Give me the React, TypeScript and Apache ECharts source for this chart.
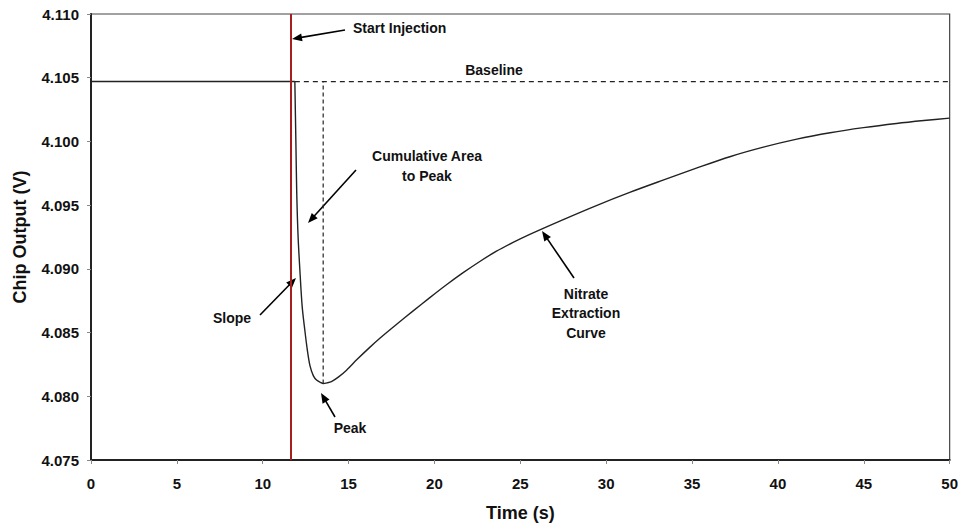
import React, { useEffect, useRef } from "react";
import * as echarts from "echarts";

// Chip output trace after injection (time in s, output in V)
const curveTime = [
  11.87, 11.93, 11.98, 12.06, 12.18, 12.3, 12.45, 12.6, 12.75, 12.95, 13.15,
  13.35, 13.52, 13.75, 14.0, 14.4, 14.88, 15.5, 16.2, 16.82, 17.8, 18.76, 19.73,
  20.7, 21.67, 22.64, 23.61, 24.58, 25.55, 27.5, 29.43, 31.37, 33.31, 35.25,
  37.2, 39.15, 41.1, 43.04, 44.98, 46.9, 48.5, 50,
];
const curveVolts = [
  4.1047, 4.1, 4.096, 4.0925, 4.0895, 4.087, 4.0852, 4.0836, 4.0824, 4.0816,
  4.08125, 4.0811, 4.081, 4.08105, 4.08115, 4.0815, 4.08205, 4.0829, 4.0838,
  4.08455, 4.08565, 4.0867, 4.08774, 4.08875, 4.0897, 4.09058, 4.09139,
  4.09208, 4.09271, 4.09387, 4.09497, 4.096, 4.09696, 4.0979, 4.0988, 4.09955,
  4.10018, 4.10068, 4.10108, 4.10141, 4.10164, 4.10183,
];

// Pre-injection trace, flat at the baseline
const preTime = [0, 11.87];
const preVolts = [4.1047, 4.1047];

const baselineVolts = 4.1047;
const injectionTime = 11.64;
const dropStartTime = 11.87;
const peakTime = 13.52;
const peakVolts = 4.081;

const xTicks = { min: 0, max: 50, interval: 5 };
const yTicks = { min: 4.075, max: 4.11, interval: 0.005 };

const FONT = '"Liberation Sans", Arial, sans-serif';

function arrow(x1: number, y1: number, x2: number, y2: number) {
  const dx = x2 - x1;
  const dy = y2 - y1;
  const len = Math.sqrt(dx * dx + dy * dy);
  const ux = dx / len;
  const uy = dy / len;
  const headLen = 10;
  const headW = 4;
  const bx = x2 - ux * headLen;
  const by = y2 - uy * headLen;
  return {
    type: "group",
    silent: true,
    children: [
      {
        type: "line",
        shape: { x1, y1, x2: bx + ux * 2, y2: by + uy * 2 },
        style: { stroke: "#000", lineWidth: 1.6 },
      },
      {
        type: "polygon",
        shape: {
          points: [
            [x2, y2],
            [bx - uy * headW, by + ux * headW],
            [bx + uy * headW, by - ux * headW],
          ],
        },
        style: { fill: "#000" },
      },
    ],
  };
}

function label(text: string, x: number, y: number, align = "center") {
  return {
    type: "text",
    x,
    y,
    silent: true,
    style: {
      text,
      fill: "#111",
      font: `bold 14px ${FONT}`,
      align,
      verticalAlign: "middle",
      lineHeight: 19.5,
    },
  };
}

export default function App() {
  const ref = useRef<HTMLDivElement>(null);

  useEffect(() => {
    if (!ref.current) return;
    const chart = echarts.init(ref.current, undefined, { renderer: "svg" });
    const curve = curveTime.map((t, i) => [t, curveVolts[i]]);
    const pre = preTime.map((t, i) => [t, preVolts[i]]);

    chart.setOption({
      animation: false,
      backgroundColor: "#fff",
      grid: {
        left: 91,
        right: 11,
        top: 14,
        bottom: 63,
        show: true,
        borderColor: "#444",
        borderWidth: 1.2,
      },
      xAxis: {
        type: "value",
        min: xTicks.min,
        max: xTicks.max,
        interval: xTicks.interval,
        name: "Time (s)",
        nameLocation: "middle",
        nameGap: 44,
        nameTextStyle: { fontFamily: FONT, fontWeight: "bold", fontSize: 18, color: "#111" },
        axisLine: { lineStyle: { color: "#222", width: 2 } },
        axisTick: { show: true, length: 4, lineStyle: { color: "#888" } },
        axisLabel: {
          fontFamily: FONT,
          fontWeight: "bold",
          fontSize: 15,
          color: "#111",
          margin: 16,
        },
        splitLine: { show: false },
      },
      yAxis: {
        type: "value",
        min: yTicks.min,
        max: yTicks.max,
        interval: yTicks.interval,
        name: "Chip Output (V)",
        nameLocation: "middle",
        nameGap: 62,
        nameTextStyle: { fontFamily: FONT, fontWeight: "bold", fontSize: 18, color: "#111" },
        axisLine: { show: true, lineStyle: { color: "#222", width: 2 } },
        axisTick: { show: true, length: 4, lineStyle: { color: "#888" } },
        axisLabel: {
          fontFamily: FONT,
          fontWeight: "bold",
          fontSize: 15,
          color: "#111",
          margin: 12,
          formatter: (v: number) => v.toFixed(3),
        },
        splitLine: { show: false },
      },
      series: [
        {
          name: "Pre-injection",
          type: "line",
          data: pre,
          showSymbol: false,
          lineStyle: { color: "#222", width: 1.4 },
          z: 3,
          markLine: {
            silent: true,
            symbol: "none",
            label: { show: false },
            lineStyle: { color: "#a3201f", width: 2, type: "solid" },
            data: [{ xAxis: injectionTime }],
          },
        },
        {
          name: "Chip output",
          type: "line",
          data: curve,
          showSymbol: false,
          smooth: 0.3,
          lineStyle: { color: "#222", width: 1.4 },
          z: 3,
        },
        {
          name: "Baseline",
          type: "line",
          data: [
            [dropStartTime, baselineVolts],
            [xTicks.max, baselineVolts],
          ],
          showSymbol: false,
          lineStyle: { color: "#222", width: 1.2, type: [5, 4] },
          z: 2,
        },
        {
          name: "Peak marker",
          type: "line",
          data: [
            [peakTime, peakVolts],
            [peakTime, baselineVolts],
          ],
          showSymbol: false,
          lineStyle: { color: "#222", width: 1.2, type: [4, 3] },
          z: 2,
        },
      ],
      graphic: [
        label("Start Injection", 353, 28, "left"),
        arrow(345, 30, 292, 39),
        label("Baseline", 494, 70),
        label("Cumulative Area\nto Peak", 427, 166),
        arrow(356, 170, 308, 223),
        label("Slope", 232, 318),
        arrow(260, 315, 296, 278),
        label("Peak", 350, 428),
        arrow(335, 417, 321, 393),
        label("Nitrate\nExtraction\nCurve", 586, 313),
        arrow(574, 278, 542, 231),
      ],
    });

    return () => chart.dispose();
  }, []);

  return (
    <div
      ref={ref}
      style={{ position: "fixed", left: 0, top: 0, width: 961, height: 527 }}
    />
  );
}
